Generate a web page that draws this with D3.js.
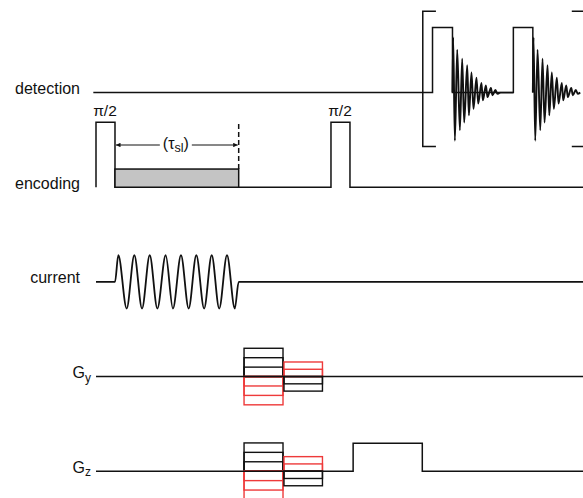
<!DOCTYPE html>
<html>
<head>
<meta charset="utf-8">
<script src="https://cdn.jsdelivr.net/npm/d3@7"></script>
<style>
  body { margin: 0; background: #fff; }
  svg { display: block; }
  text { font-family: "Liberation Sans", Arial, Helvetica, sans-serif; fill: #111; }
</style>
</head>
<body>
<svg id="drawspace" width="583" height="498"></svg>
<script>
// channels, top to bottom
const channels = ["detection", "encoding", "current", "Gy", "Gz"];
const channelLabels = [["detection"], ["encoding"], ["current"], ["G", "y"], ["G", "z"]];

// time in arbitrary units (0..100), amplitude relative to a hard pulse (= 1)
const encPulses = [[0, 3.9], [48.25, 52.15]];
const pulseLabels = ["π/2", "π/2"];
const spinLock = [3.9, 29.3];
const spinLockAmp = 0.28;
const tauAmp = 0.65;

// oscillating current, extrema
const currentWave = [
  [0, 0], [3.9, 0], [4.58, 0.41], [6.3, -0.41], [7.87, 0.41], [9.45, -0.41],
  [11.03, 0.41], [12.6, -0.41], [14.31, 0.41], [15.8, -0.41], [17.45, 0.41],
  [19.03, -0.41], [20.6, 0.41], [22.2, -0.41], [23.76, 0.41], [25.3, -0.41],
  [26.9, 0.41], [28.5, -0.41], [29.3, 0], [100, 0]
];

// phase encoding gradient tables (same on Gy and Gz)
const gBlock1 = [30.4, 38.4];
const gBlock1Steps = [0.145, 0.29, 0.435];
const gBlock2 = [38.6, 46.5];
const gBlock2Steps = [0.112, 0.224];
const gzReadout = [52.8, 67.0];
const gzReadoutAmp = 0.43;

// detection: readout pulses and FIDs (offset from pulse end, amplitude)
const detStart = -0.55;
const detPulses = [[69.1, 73.2], [85.7, 89.7]];
const fid = [
  [0, 0], [0.14, 0.85], [0.49, -0.74], [0.97, 0.66], [1.52, -0.58], [1.99, 0.52],
  [2.4, -0.46], [3.02, 0.42], [3.37, -0.35], [3.9, 0.31], [4.31, -0.25],
  [4.93, 0.23], [5.28, -0.17], [5.95, 0.15], [6.24, -0.12], [6.86, 0.11],
  [7.19, -0.07], [7.89, 0.07], [8.21, -0.04], [8.83, 0.04], [9.24, -0.02], [9.73, 0]
];
const bracketX = [67.1, 100.4];
const bracketAmp = [1.25, -0.83];
const bracketTick = 2.7;

let drawSpace = d3.select("#drawspace");
const black = "#111", red = "#ee3a3a";

let x = d3.scaleLinear().domain([0, 100]).range([96, 583]);
let amp = d3.scaleLinear().domain([0, 1]).range([0, -65]);
let row = d3.scalePoint().domain(channels).range([92.6, 471.2]);

let line = d3.line().x((d) => x(d[0])).y((d) => amp(d[1]));
let wave = d3.line().x((d) => x(d[0])).y((d) => amp(d[1])).curve(d3.curveMonotoneX);

let rows = {};
channels.forEach((c, i) => {
  rows[c] = drawSpace.append("g").attr("transform", `translate(0,${row(c)})`);
  let lab = channelLabels[i];
  let t = rows[c].append("text")
    .attr("text-anchor", "end")
    .attr("font-size", 16)
    .attr("x", lab.length > 1 ? 91 : 80)
    .attr("y", 1.5)
    .text(lab[0]);
  if (lab.length > 1) t.append("tspan").attr("font-size", 12).attr("dy", 3.5).text(lab[1]);
});

function stroke(sel, w) {
  return sel.attr("fill", "none").attr("stroke", black).attr("stroke-width", w || 1.5);
}

// ---- detection ----
let det = rows.detection;
let detPts = [[detStart, 0]];
detPulses.forEach((p) => detPts.push([p[0], 0], [p[0], 1], [p[1], 1], [p[1], 0]));
stroke(det.append("path").attr("d", line(detPts)));
// baseline between FID1 and second pulse
stroke(det.append("path").attr("d", line([[detPulses[0][1] + fid[fid.length - 1][0], 0], [detPulses[1][0], 0]])));
detPulses.forEach((p) => {
  stroke(det.append("path").attr("d", wave(fid.map((d) => [p[1] + d[0], d[1]]))), 1.9);
});
// brackets
stroke(det.append("path").attr("d", line([
  [bracketX[0] + bracketTick, bracketAmp[0]], [bracketX[0], bracketAmp[0]],
  [bracketX[0], bracketAmp[1]], [bracketX[0] + bracketTick, bracketAmp[1]]
])));
stroke(det.append("path").attr("d", line([
  [bracketX[1] - bracketTick, bracketAmp[0]], [bracketX[1], bracketAmp[0]],
  [bracketX[1], bracketAmp[1]], [bracketX[1] - bracketTick, bracketAmp[1]]
])));

// ---- encoding ----
let enc = rows.encoding;
let encPts = [];
encPulses.forEach((p) => encPts.push([p[0], 0], [p[0], 1], [p[1], 1], [p[1], 0]));
encPts.push([100, 0]);
stroke(enc.append("path").attr("d", line(encPts)));
enc.append("rect")
  .attr("x", x(spinLock[0]))
  .attr("y", amp(spinLockAmp))
  .attr("width", x(spinLock[1]) - x(spinLock[0]))
  .attr("height", amp(0) - amp(spinLockAmp))
  .attr("fill", "#c4c4c4")
  .attr("stroke", black)
  .attr("stroke-width", 1.5);
stroke(enc.append("line"))
  .attr("x1", x(spinLock[1])).attr("x2", x(spinLock[1]))
  .attr("y1", amp(spinLockAmp)).attr("y2", amp(1))
  .attr("stroke-dasharray", "5,3");
encPulses.forEach((p, i) => {
  enc.append("text")
    .attr("text-anchor", "middle")
    .attr("font-size", 15.5)
    .attr("x", x((p[0] + p[1]) / 2) - 0.5)
    .attr("y", amp(1) - 6.5)
    .text(pulseLabels[i]);
});

// tau_sl arrow
drawSpace.append("defs").append("marker")
  .attr("id", "arr")
  .attr("viewBox", "0 0 10 10")
  .attr("refX", 10).attr("refY", 5)
  .attr("markerWidth", 6).attr("markerHeight", 4.5)
  .attr("markerUnits", "userSpaceOnUse")
  .attr("orient", "auto")
  .append("path").attr("d", "M0,0L10,5L0,10Z").attr("fill", black);
let mid = x((spinLock[0] + spinLock[1]) / 2);
let ya = amp(tauAmp);
stroke(enc.append("line"), 1)
  .attr("x1", mid - 17).attr("x2", x(spinLock[0]) + 1)
  .attr("y1", ya).attr("y2", ya)
  .attr("marker-end", "url(#arr)");
stroke(enc.append("line"), 1)
  .attr("x1", mid + 15).attr("x2", x(spinLock[1]) - 1)
  .attr("y1", ya).attr("y2", ya)
  .attr("marker-end", "url(#arr)");
let tau = enc.append("text")
  .attr("text-anchor", "middle")
  .attr("font-size", 16)
  .attr("x", mid - 1)
  .attr("y", ya + 3.5);
tau.append("tspan").text("(τ");
tau.append("tspan").attr("font-size", 12.5).attr("dy", 3).text("sl");
tau.append("tspan").attr("dy", -3).text(")");

// ---- current ----
stroke(rows.current.append("path").attr("d", wave(currentWave)), 1.8);

// ---- gradients ----
function gradTable(g, block, steps, posColor, negColor) {
  [[1, posColor], [-1, negColor]].forEach(([s, col]) => {
    steps.forEach((a) => {
      g.append("rect")
        .attr("x", x(block[0]))
        .attr("width", x(block[1]) - x(block[0]))
        .attr("y", s > 0 ? amp(a) : amp(0))
        .attr("height", Math.abs(amp(a) - amp(0)))
        .attr("fill", "none")
        .attr("stroke", col)
        .attr("stroke-width", 1.4);
    });
  });
}

["Gy", "Gz"].forEach((c) => {
  let g = rows[c];
  gradTable(g, gBlock1, gBlock1Steps, black, red);
  gradTable(g, gBlock2, gBlock2Steps, red, black);
  let pts = [[0, 0]];
  if (c == "Gz") {
    pts.push([gzReadout[0], 0], [gzReadout[0], gzReadoutAmp], [gzReadout[1], gzReadoutAmp], [gzReadout[1], 0]);
  }
  pts.push([100, 0]);
  stroke(g.append("path").attr("d", line(pts)));
});
</script>
</body>
</html>
